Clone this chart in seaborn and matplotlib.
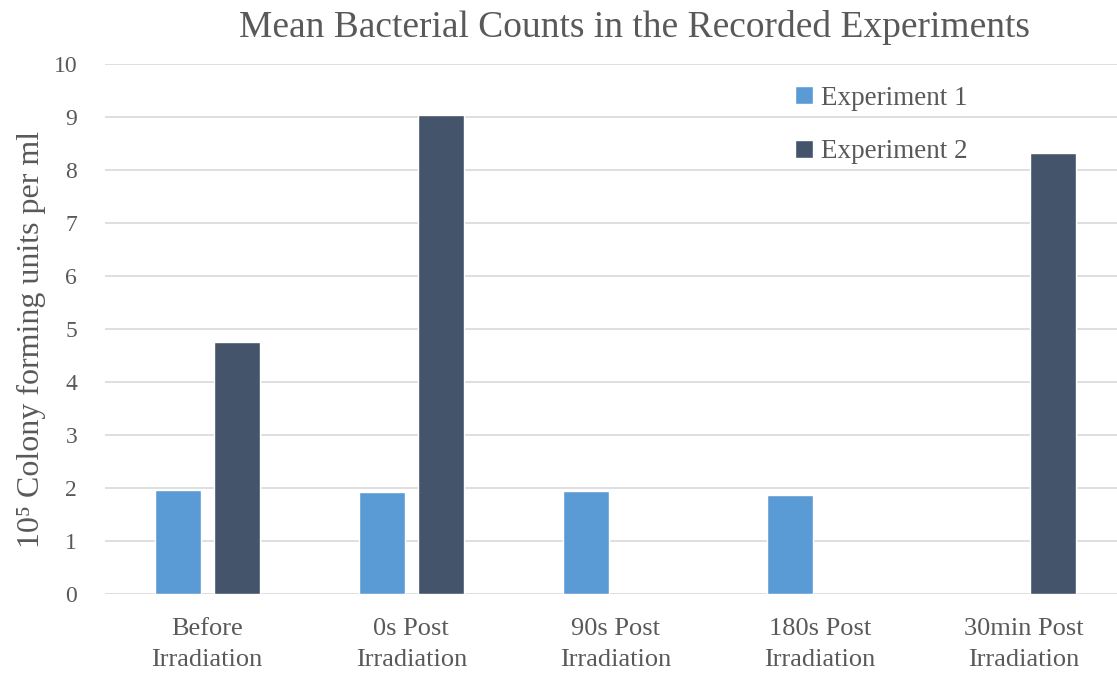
import numpy as np
import pandas as pd
import matplotlib
matplotlib.use("Agg")
import matplotlib.pyplot as plt
import seaborn as sns

# data
categories = ["Before\nIrradiation", "0s Post\nIrradiation", "90s Post\nIrradiation",
              "180s Post\nIrradiation", "30min Post\nIrradiation"]
experiment_1 = [1.96, 1.92, 1.94, 1.87, np.nan]
experiment_2 = [4.75, 9.04, np.nan, np.nan, 8.33]
series_names = ["Experiment 1", "Experiment 2"]
y_ticks = list(range(0, 11))

df = pd.DataFrame({
    "category": categories * 2,
    "value": experiment_1 + experiment_2,
    "series": [series_names[0]] * len(categories) + [series_names[1]] * len(categories),
})

sns.set_theme(style="white")
plt.rcParams["font.family"] = ["Liberation Serif", "DejaVu Serif"]
text_color = "#595959"

fig = plt.figure(figsize=(11.17, 6.75), dpi=100)
ax = fig.add_axes([0.094, 0.12, 0.914, 0.785])

sns.barplot(data=df, x="category", y="value", hue="series", order=categories,
            hue_order=series_names, palette=["#5B9BD5", "#44546A"], saturation=1,
            width=0.578, gap=0.22, ax=ax, legend=True)

ax.set_ylim(0, 10)
ax.set_xlim(-0.5, len(categories) - 0.5)
ax.set_yticks(y_ticks)
ax.yaxis.grid(True, color="#D9D9D9", linewidth=1.2)
ax.set_axisbelow(True)
for s in ax.spines.values():
    s.set_visible(False)

ax.tick_params(axis="y", length=0, pad=20, labelsize=17, labelcolor=text_color)
ax.tick_params(axis="x", length=0, pad=17, labelsize=19, labelcolor=text_color)
for lbl in ax.get_xticklabels():
    lbl.set_linespacing(1.55)
ax.set_xlabel("")
ax.set_ylabel("10⁵ Colony forming units per ml", fontsize=23, color=text_color)
ax.yaxis.set_label_coords(-0.058, 0.48)

fig.suptitle("Mean Bacterial Counts in the Recorded Experiments", x=0.568, y=0.985,
             fontsize=27, color=text_color)

leg = ax.legend(loc="upper left", bbox_to_anchor=(0.652, 1.005), frameon=False,
                fontsize=19.5, handlelength=0.65, handleheight=0.65, handletextpad=0.3,
                labelspacing=1.05)
for t in leg.get_texts():
    t.set_color(text_color)

fig.savefig("out.png", dpi=100)
